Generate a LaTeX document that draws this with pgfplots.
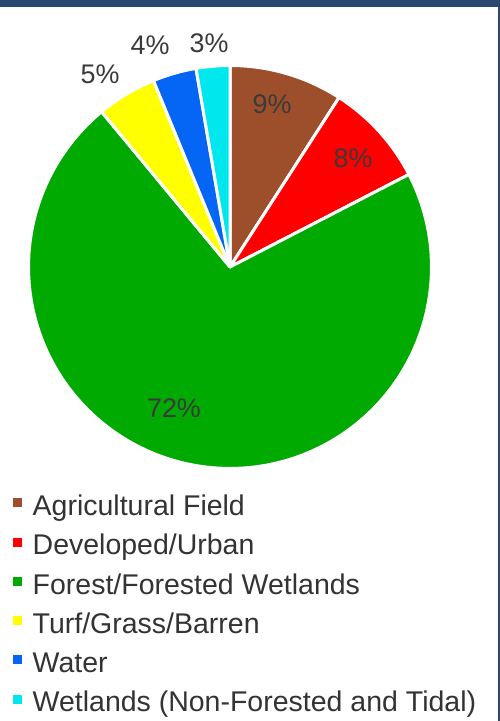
\documentclass[border=0pt]{standalone}
\usepackage{pgfplots}
\usepackage{pgfplotstable}
\pgfplotsset{compat=1.18}
\usepackage{fontspec}
\setmainfont{Liberation Sans}
\definecolor{cAgri}{HTML}{9C4F2A}
\definecolor{cDev}{HTML}{FF0000}
\definecolor{cFor}{HTML}{00AA00}
\definecolor{cTurf}{HTML}{FFFF00}
\definecolor{cWat}{HTML}{0566F5}
\definecolor{cWet}{HTML}{00E8EE}
\definecolor{cLab}{HTML}{3A3A3A}
\definecolor{cLeg}{HTML}{333333}
\definecolor{cNavy}{HTML}{2B4970}

\pgfplotstableread{
value color label
9.1 cAgri 9
8.3 cDev 8
71.6 cFor 72
4.8 cTurf 5
3.5 cWat 4
2.7 cWet 3
}\piedata

\begin{document}
\begin{tikzpicture}
\begin{axis}[
  x=0.5bp, y=0.5bp,
  xmin=0, xmax=500, ymin=0, ymax=721,
  hide axis, clip=false,
  legend cell align=left,
  legend image code/.code={\fill[#1, draw=none] (0bp,0.7bp) rectangle (4.5bp,5.2bp);},
  legend style={at={(axis cs:12.7,226)}, anchor=north west, draw=none, fill=none,
    inner sep=0pt, font=\fontsize{14.3}{16}\selectfont, text=cLeg, row sep=6.1bp,
    nodes={inner sep=0pt, text height=10.2bp, text depth=3.3bp},
    /tikz/every odd column/.append style={column sep=5.3bp}},
]
% frame decorations
\fill[cNavy] (axis cs:0,714) rectangle (axis cs:500,721);
\fill[cNavy] (axis cs:497.5,0) rectangle (axis cs:500,721);

\def\cum{0}
\pgfplotsforeachungrouped \i in {0,...,5}{%
  \pgfplotstablegetelem{\i}{value}\of\piedata
  \let\v\pgfplotsretval
  \pgfmathsetmacro\a{90-3.6*\cum}%
  \pgfmathsetmacro\cum{\cum+\v}%
  \pgfmathsetmacro\b{90-3.6*\cum}%
  \pgfplotstablegetelem{\i}{color}\of\piedata
  \let\c\pgfplotsretval
  \edef\tmp{\noexpand\addplot[fill=\c, draw=white, line width=1.5bp, line join=round, domain=\b:\a, samples=90, forget plot] ({230+201.5*cos(x)},{454+201.5*sin(x)}) -- (axis cs:230,454) -- cycle;}%
  \tmp
}

\addlegendimage{fill=cAgri}\addlegendentry{Agricultural Field}
\addlegendimage{fill=cDev}\addlegendentry{Developed/Urban}
\addlegendimage{fill=cFor}\addlegendentry{Forest/Forested Wetlands}
\addlegendimage{fill=cTurf}\addlegendentry{Turf/Grass/Barren}
\addlegendimage{fill=cWat}\addlegendentry{Water}
\addlegendimage{fill=cWet}\addlegendentry{Wetlands (Non-Forested and Tidal)}

\begin{scope}[every node/.style={text=cLab, font=\fontsize{13.5}{15}\selectfont}]
\node at (axis cs:272,617) {9\%};
\node at (axis cs:353,563) {8\%};
\node at (axis cs:174,313) {72\%};
\node at (axis cs:100,647) {5\%};
\node at (axis cs:150,676) {4\%};
\node at (axis cs:209,678) {3\%};
\end{scope}
\end{axis}
\end{tikzpicture}
\end{document}
